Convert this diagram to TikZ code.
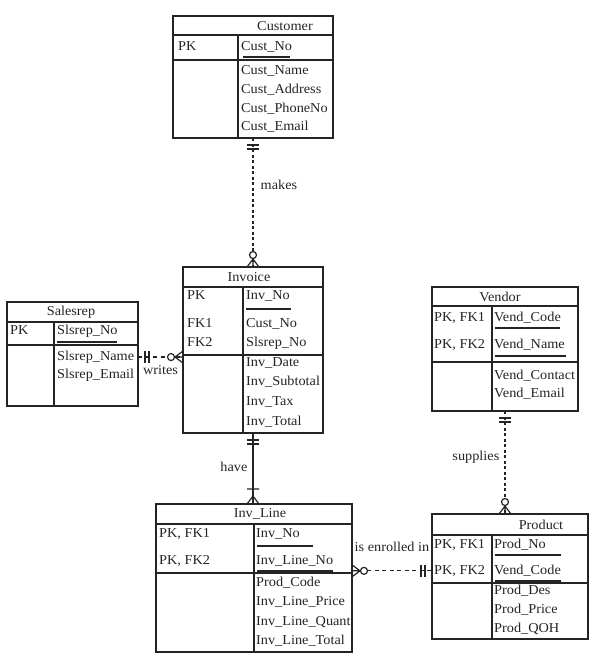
\documentclass[tikz,border=0pt]{standalone}
\usepackage{fontspec}
\setmainfont[FakeStretch=1.05]{Liberation Serif}
\definecolor{ink}{gray}{0.14}

\begin{document}
\begin{tikzpicture}[x=1pt,y=-1pt,
    entity/.style={draw=ink, line width=1.2pt, inner sep=0pt, outer sep=0pt},
    sep/.style={draw=ink, line width=1.2pt},
    keysep/.style={draw=ink, line width=2pt},
    txt/.style={font=\fontsize{13.6}{16}\selectfont, text=ink, inner sep=0pt},
    field/.style={txt, anchor=mid west},
    symb/.style={draw=ink, line width=1.2pt},
    dotline/.style={draw=ink, line width=1.4pt, dash pattern=on 3pt off 2.5pt},
    dashline/.style={draw=ink, line width=1.2pt, dash pattern=on 4pt off 3.5pt},
    one/.pic={\draw[symb] (7,-6) -- (7,6) (11,-6) -- (11,6);},
    zmany/.pic={\draw[symb] (0,-6) -- (8,0) -- (0,6) (0,0) -- (8,0);
                \draw[symb, fill=white] (12,0) circle (3.5);},
    omany/.pic={\draw[symb] (0,-6) -- (8,0) -- (0,6) (0,0) -- (15,0) (15,-6) -- (15,6);}]
\useasboundingbox (0,0) rectangle (602,665);

% Customer
\node[entity, minimum width=160pt, minimum height=122pt] (cust) at (253,77) {};
\draw[sep] (173,35) -- (333,35);
\draw[keysep] (173,60) -- (333,60);
\draw[sep] (238,35) -- (238,138);
\node[txt] (custt) at (285,26) {Customer};
\node[field] (custpk) at (178,48) {PK};
\node[field] (custno) at (241,48) {Cust\_No};
\draw[keysep] (243,57) -- (290,57);
\node[field] (custa) at (241,72) {Cust\_Name};
\node[field] (custb) at (241,91) {Cust\_Address};
\node[field] (custc) at (241,110) {Cust\_PhoneNo};
\node[field] (custd) at (241,128) {Cust\_Email};

% Invoice
\node[entity, minimum width=140pt, minimum height=166pt] (inv) at (253,350) {};
\draw[sep] (183,287) -- (323,287);
\draw[keysep] (183,355) -- (323,355);
\draw[sep] (243,287) -- (243,433);
\node[txt] (invt) at (249,277) {Invoice};
\node[field] (invpk) at (187,297) {PK};
\node[field] (invno) at (246,297) {Inv\_No};
\draw[keysep] (246,309) -- (291,309);
\node[field] (invfa) at (187,325) {FK1};
\node[field] (invca) at (246,325) {Cust\_No};
\node[field] (invfb) at (187,344) {FK2};
\node[field] (invcb) at (246,344) {Slsrep\_No};
\node[field] (inva) at (246,364) {Inv\_Date};
\node[field] (invb) at (246,383) {Inv\_Subtotal};
\node[field] (invc) at (246,403) {Inv\_Tax};
\node[field] (invd) at (246,423) {Inv\_Total};

% Salesrep
\node[entity, minimum width=131pt, minimum height=104pt] (sales) at (72.5,354) {};
\draw[sep] (7,322) -- (138,322);
\draw[keysep] (7,345) -- (138,345);
\draw[sep] (54,322) -- (54,406);
\node[txt] (salest) at (71,312) {Salesrep};
\node[field] (salespk) at (10,332) {PK};
\node[field] (salesno) at (57,332) {Slsrep\_No};
\draw[keysep] (57,342) -- (117,342);
\node[field] (salesa) at (57,358) {Slsrep\_Name};
\node[field] (salesb) at (57,376) {Slsrep\_Email};

% Vendor
\node[entity, minimum width=146pt, minimum height=124pt] (vend) at (505,349) {};
\draw[sep] (432,306) -- (578,306);
\draw[keysep] (432,362) -- (578,362);
\draw[sep] (492,306) -- (492,411);
\node[txt] (vendt) at (500,297) {Vendor};
\node[field] (vendpa) at (434,319) {PK, FK1};
\node[field] (vendca) at (494,319) {Vend\_Code};
\draw[keysep] (495,328) -- (560,328);
\node[field] (vendpb) at (434,346) {PK, FK2};
\node[field] (vendcb) at (494,346) {Vend\_Name};
\draw[keysep] (495,356) -- (566,356);
\node[field] (venda) at (494,377) {Vend\_Contact};
\node[field] (vendb) at (494,395) {Vend\_Email};

% Inv_Line
\node[entity, minimum width=196pt, minimum height=148pt] (line) at (254,578) {};
\draw[sep] (156,524) -- (352,524);
\draw[keysep] (156,573) -- (352,573);
\draw[sep] (254,524) -- (254,652);
\node[txt] (linet) at (260,514) {Inv\_Line};
\node[field] (linepa) at (159,535) {PK, FK1};
\node[field] (lineca) at (256,535) {Inv\_No};
\draw[keysep] (257,546) -- (313,546);
\node[field] (linepb) at (159,562) {PK, FK2};
\node[field] (linecb) at (256,562) {Inv\_Line\_No};
\draw[keysep] (257,571) -- (333,571);
\node[field] (linea) at (256,584) {Prod\_Code};
\node[field] (lineb) at (256,603) {Inv\_Line\_Price};
\node[field] (linec) at (256,623) {Inv\_Line\_Quant};
\node[field] (lined) at (256,642) {Inv\_Line\_Total};

% Product
\node[entity, minimum width=156pt, minimum height=125pt] (prod) at (510,576.5) {};
\draw[sep] (432,535) -- (588,535);
\draw[keysep] (432,583) -- (588,583);
\draw[sep] (492,535) -- (492,639);
\node[txt] (prodt) at (541,525) {Product};
\node[field] (prodpa) at (434,546) {PK, FK1};
\node[field] (prodca) at (494,546) {Prod\_No};
\draw[keysep] (495,555) -- (561,555);
\node[field] (prodpb) at (434,572) {PK, FK2};
\node[field] (prodcb) at (494,572) {Vend\_Code};
\draw[keysep] (495,581) -- (561,581);
\node[field] (proda) at (494,592) {Prod\_Des};
\node[field] (prodb) at (494,611) {Prod\_Price};
\node[field] (prodc) at (494,630) {Prod\_QOH};

% relationships
\draw[dotline] (cust.south) -- (inv.north) node[txt, pos=0.36, right=7pt] (makes) {makes};
\pic[rotate=-90] at (cust.south) {one};
\pic[rotate=90] at (inv.north) {zmany};

\draw[symb] (inv.south) -- (inv.south |- line.north) node[txt, pos=0.48, left=5pt] (have) {have};
\pic[rotate=-90] at (inv.south) {one};
\pic[rotate=90] at (inv.south |- line.north) {omany};

\draw[dashline] (sales.east |- salesa) -- (inv.west |- salesa) node[txt, midway, below=8pt] (writes) {writes};
\pic at (sales.east |- salesa) {one};
\pic[rotate=180] at (inv.west |- salesa) {zmany};

\draw[dotline] (vend.south) -- (vend.south |- prod.north) node[txt, pos=0.45, left=5pt] (supplies) {supplies};
\pic[rotate=-90] at (vend.south) {one};
\pic[rotate=90] at (vend.south |- prod.north) {zmany};

\draw[dashline] (line.east |- prodpb) -- (prod.west |- prodpb) node[txt, midway, above=19pt] (enrolled) {is enrolled in};
\pic at (line.east |- prodpb) {zmany};
\pic[rotate=180] at (prod.west |- prodpb) {one};
\end{tikzpicture}
\end{document}
